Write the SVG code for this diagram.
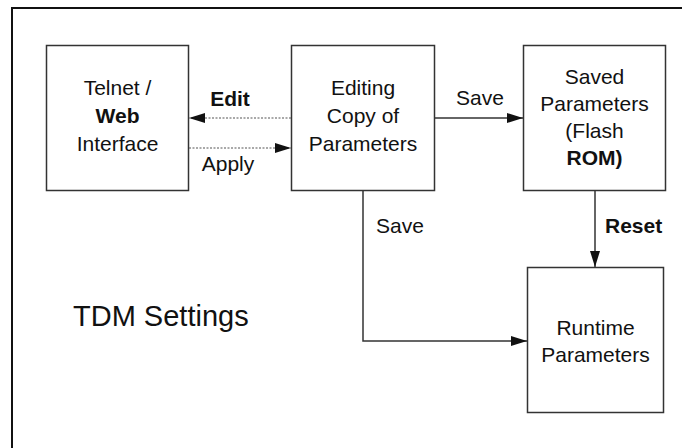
<svg xmlns="http://www.w3.org/2000/svg" width="682" height="448" viewBox="0 0 682 448">
  <style>
    .frame { fill: none; stroke: #111; stroke-width: 2; }
    .box { fill: #fff; stroke: #333; stroke-width: 1.5; }
    .label { font-family: "Liberation Sans", Arial, sans-serif; font-size: 21px; fill: #111; }
    .mid { text-anchor: middle; }
    .bold { font-weight: bold; }
    .solid { fill: none; stroke: #333; stroke-width: 1.5; }
    .dotted { fill: none; stroke: #555; stroke-width: 1.2; stroke-dasharray: 2 1.5; }
  </style>
  <defs>
    <marker id="arrow" viewBox="0 0 16 10" refX="16" refY="5" markerWidth="16" markerHeight="10" markerUnits="userSpaceOnUse" orient="auto">
      <path d="M0,0 L16,5 L0,10 Z" fill="#111"/>
    </marker>
  </defs>

  <rect width="682" height="448" fill="#fff"/>

  <!-- outer frame: only the top and left edges fall inside the canvas -->
  <path class="frame" d="M12,448 L12,8 L682,8"/>

  <g id="telnet-web">
    <rect class="box" x="46.5" y="45.5" width="142" height="145"/>
    <text class="label mid" x="117.5" y="95">Telnet /</text>
    <text class="label mid bold" x="117.5" y="123">Web</text>
    <text class="label mid" x="117.5" y="151">Interface</text>
  </g>

  <g id="editing-copy">
    <rect class="box" x="291.5" y="45.5" width="143" height="145"/>
    <text class="label mid" x="363" y="95">Editing</text>
    <text class="label mid" x="363" y="123">Copy of</text>
    <text class="label mid" x="363" y="151">Parameters</text>
  </g>

  <g id="saved-params">
    <rect class="box" x="523.5" y="45.5" width="142" height="145"/>
    <text class="label mid" x="594.5" y="84">Saved</text>
    <text class="label mid" x="594.5" y="111">Parameters</text>
    <text class="label mid" x="594.5" y="138">(Flash</text>
    <text class="label mid bold" x="594.5" y="165">ROM)</text>
  </g>

  <g id="runtime-params">
    <rect class="box" x="527.5" y="267.5" width="136" height="145"/>
    <text class="label mid" x="595.5" y="335">Runtime</text>
    <text class="label mid" x="595.5" y="362">Parameters</text>
  </g>

  <g id="connectors">
    <path class="dotted" d="M291,118 L189,118" marker-end="url(#arrow)"/>
    <path class="dotted" d="M189,148 L291,148" marker-end="url(#arrow)"/>
    <path class="solid" d="M435,118 L523,118" marker-end="url(#arrow)"/>
    <path class="solid" d="M363,191 L363,341 L527,341" marker-end="url(#arrow)"/>
    <path class="solid" d="M595,191 L595,267" marker-end="url(#arrow)"/>
    <text class="label mid bold" x="230" y="106">Edit</text>
    <text class="label mid" x="228" y="171">Apply</text>
    <text class="label mid" x="480" y="105">Save</text>
    <text class="label" x="376" y="233">Save</text>
    <text class="label bold" x="605" y="233">Reset</text>
  </g>

  <text class="label" x="73" y="326" style="font-size:29px">TDM Settings</text>
</svg>
